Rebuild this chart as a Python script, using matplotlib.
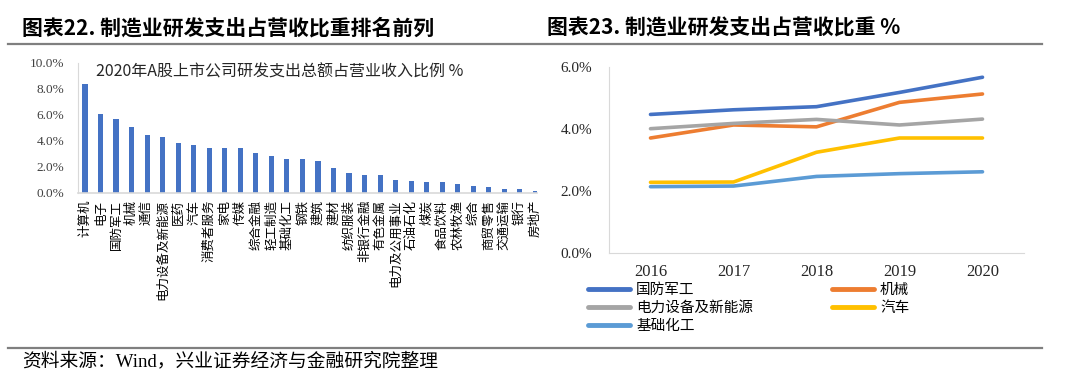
import numpy as np
import matplotlib; matplotlib.use("Agg")
import matplotlib.pyplot as plt
from matplotlib.lines import Line2D

plt.rcParams['font.family'] = ['Noto Sans CJK SC', 'DejaVu Sans']

# ---- left: 2020 ranking ----
industries = ["计算机", "电子", "国防军工", "机械", "通信", "电力设备及新能源", "医药", "汽车",
              "消费者服务", "家电", "传媒", "综合金融", "轻工制造", "基础化工", "钢铁", "建筑",
              "建材", "纺织服装", "非银行金融", "有色金属", "电力及公用事业", "石油石化", "煤炭",
              "食品饮料", "农林牧渔", "综合", "商贸零售", "交通运输", "银行", "房地产"]
ratio_2020 = [8.36, 6.09, 5.66, 5.07, 4.46, 4.25, 3.82, 3.69, 3.46, 3.46, 3.46, 3.08, 2.85,
              2.57, 2.57, 2.42, 1.90, 1.55, 1.40, 1.35, 0.97, 0.90, 0.82, 0.82, 0.69, 0.53,
              0.46, 0.30, 0.30, 0.15]
bar_yticks = [0, 2, 4, 6, 8, 10]

# ---- right: trend 2016-2020 ----
years = ["2016", "2017", "2018", "2019", "2020"]
defense = [4.46, 4.61, 4.71, 5.17, 5.66]
machinery = [3.70, 4.12, 4.06, 4.85, 5.12]
power_equip = [4.00, 4.17, 4.30, 4.12, 4.31]
auto = [2.27, 2.28, 3.24, 3.70, 3.70]
basic_chem = [2.13, 2.15, 2.46, 2.55, 2.61]
line_yticks = [0, 2, 4, 6]

W, H = 1080, 387
fig = plt.figure(figsize=(W / 100, H / 100), dpi=100)

def px_axes(x0, y0, x1, y1):
    # pixel box (top-left origin) -> figure fraction
    return fig.add_axes([x0 / W, 1 - y1 / H, (x1 - x0) / W, (y1 - y0) / H])

serif = "Liberation Serif"
axis_c = "#d9d9d9"

# headers, rules, footer
fig.text(22 / W, 1 - 28 / H, "图表22. 制造业研发支出占营收比重排名前列", fontsize=15,
         fontweight="bold", va="center", ha="left")
fig.text(547 / W, 1 - 28 / H, "图表23. 制造业研发支出占营收比重 %", fontsize=15,
         fontweight="bold", va="center", ha="left")
for yy in (43.5, 347.5):
    fig.add_artist(Line2D([8 / W, 1042 / W], [1 - yy / H] * 2, color="#7f7f7f", lw=1.6))
fig.text(22 / W, 1 - 361 / H, "资料来源：Wind，兴业证券经济与金融研究院整理", fontsize=13.5,
         va="center", ha="left", family=[serif, 'Noto Sans CJK SC'])

# ---- bar chart ----
ax = px_axes(78, 62.7, 537, 192.7)
x = np.arange(len(industries))
ax.bar(x, ratio_2020, width=0.33, color="#4472C4", zorder=2)
ax.set_xlim(-0.45, len(industries) - 0.9)
ax.set_ylim(0, 10)
ax.set_yticks(bar_yticks)
ax.set_yticklabels([f"{v:.1f}%" for v in bar_yticks], family=serif, fontsize=9.5, color="#404040")
ax.set_xticks(x)
ax.set_xticklabels(industries, rotation=90, fontsize=9, va="top", ha="center")
ax.tick_params(axis="y", length=0, pad=10)
ax.tick_params(axis="x", length=0, pad=5)
for s in ("top", "right"):
    ax.spines[s].set_visible(False)
ax.spines["left"].set_color(axis_c)
ax.spines["bottom"].set_color(axis_c)
ax.spines["bottom"].set_linewidth(1.2)
ax.text(0.04, 0.93, "2020年A股上市公司研发支出总额占营业收入比例 %", transform=ax.transAxes,
        fontsize=11.5, va="center", ha="left", color="#262626")

# ---- line chart ----
ax2 = px_axes(609, 66.7, 1024, 252.7)
xi = np.arange(len(years))
series = [(defense, "国防军工", "#4472C4"), (machinery, "机械", "#ED7D31"),
          (power_equip, "电力设备及新能源", "#A5A5A5"), (auto, "汽车", "#FFC000"),
          (basic_chem, "基础化工", "#5B9BD5")]
handles = []
for vals, name, col in series:
    h, = ax2.plot(xi, vals, color=col, lw=2.6, solid_capstyle="round", label=name)
    handles.append(h)
ax2.set_xlim(-0.5, len(years) - 0.5)
ax2.set_ylim(0, 6)
ax2.set_yticks(line_yticks)
ax2.set_yticklabels([f"{v:.1f}%" for v in line_yticks], family=serif, fontsize=11, color="#262626")
ax2.set_xticks(xi)
ax2.set_xticklabels(years, family=serif, fontsize=12, color="#262626")
ax2.tick_params(axis="y", length=0, pad=12)
ax2.tick_params(axis="x", length=0, pad=8)
for s in ("top", "right"):
    ax2.spines[s].set_visible(False)
ax2.spines["left"].set_color(axis_c)
ax2.spines["bottom"].set_color(axis_c)

order = [0, 2, 4, 1, 3]
leg = fig.legend([handles[i] for i in order], [series[i][1] for i in order], ncol=2,
                 loc="upper left", bbox_to_anchor=(588 / W, 1 - 283 / H), frameon=False,
                 fontsize=10.5, handlelength=2.9, handletextpad=0.4, columnspacing=5.4,
                 labelspacing=0.28, borderpad=0, borderaxespad=0)
for lh in leg.get_lines():
    lh.set_linewidth(3.5)

fig.savefig("out.png", dpi=100)
